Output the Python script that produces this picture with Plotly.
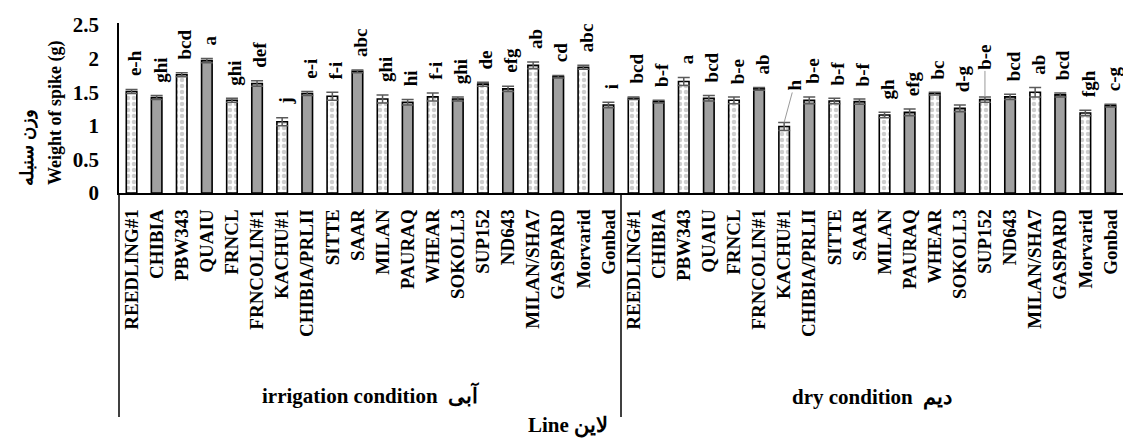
import plotly.graph_objects as go

lines = ["REEDLING#1", "CHIBIA", "PBW343", "QUAIU", "FRNCL", "FRNCOLIN#1", "KACHU#1",
         "CHIBIA/PRLII", "SITTE", "SAAR", "MILAN", "PAURAQ", "WHEAR", "SOKOLL3", "SUP152",
         "ND643", "MILAN/SHA7", "GASPARD", "Morvarid", "Gonbad"]

irr_mean = [1.51, 1.42, 1.76, 1.97, 1.38, 1.63, 1.06, 1.48, 1.44, 1.81,
            1.40, 1.35, 1.43, 1.40, 1.62, 1.55, 1.90, 1.73, 1.87, 1.31]
irr_se = [0.03, 0.03, 0.03, 0.03, 0.03, 0.04, 0.06, 0.03, 0.06, 0.02,
          0.06, 0.04, 0.06, 0.03, 0.03, 0.04, 0.05, 0.02, 0.03, 0.04]
irr_letters = ["e-h", "ghi", "bcd", "a", "ghi", "def", "j", "e-i", "f-i", "abc",
               "ghi", "hi", "f-i", "ghi", "de", "efg", "ab", "cd", "abc", "i"]

dry_mean = [1.41, 1.36, 1.66, 1.41, 1.38, 1.55, 0.99, 1.38, 1.37, 1.36,
            1.16, 1.20, 1.48, 1.26, 1.39, 1.43, 1.50, 1.46, 1.19, 1.30]
dry_se = [0.02, 0.02, 0.06, 0.04, 0.05, 0.02, 0.06, 0.05, 0.04, 0.04,
          0.04, 0.05, 0.02, 0.05, 0.04, 0.04, 0.07, 0.03, 0.04, 0.02]
dry_letters = ["bcd", "b-f", "a", "bcd", "b-e", "ab", "h", "b-e", "b-f", "b-f",
               "gh", "efg", "bc", "d-g", "b-e", "bcd", "ab", "bcd", "fgh", "c-g"]

y_ticks = [0, 0.5, 1, 1.5, 2, 2.5]
y_tick_text = ["0", "0.5", "1", "1.5", "2", "2.5"]

FONT = "Liberation Serif"

names = lines + lines
means = irr_mean + dry_mean
ses = irr_se + dry_se
letters = irr_letters + dry_letters
xs = list(range(len(names)))

dot_x = [x for x in xs if x % 2 == 0]
solid_x = [x for x in xs if x % 2 == 1]

fig = go.Figure()
err_style = dict(type="data", color="#5a5a5a", thickness=1.5, width=6, visible=True)

fig.add_trace(go.Bar(
    x=dot_x, y=[means[i] for i in dot_x],
    error_y=dict(array=[ses[i] for i in dot_x], **err_style),
    width=0.42,
    marker=dict(color="white", line=dict(color="black", width=1.6),
                pattern=dict(shape=".", fgcolor="#9c9c9c", bgcolor="white",
                             size=6, solidity=0.45)),
    showlegend=False,
))
fig.add_trace(go.Bar(
    x=solid_x, y=[means[i] for i in solid_x],
    error_y=dict(array=[ses[i] for i in solid_x], **err_style),
    width=0.42,
    marker=dict(color="#a0a0a0", line=dict(color="black", width=1.6)),
    showlegend=False,
))


def bfont(size):
    return dict(family=FONT, size=size, color="black", weight="bold")


annotations = []
special = {26: (10, -37), 34: (0, -40)}
for i in xs:
    top = means[i] + ses[i]
    if i in special:
        ax, ay = special[i]
        annotations.append(dict(
            x=i, y=top, xref="x", yref="y", text=letters[i], textangle=-90,
            showarrow=True, arrowhead=0, arrowwidth=1, arrowcolor="#9a9a9a",
            ax=ax, ay=ay, standoff=0, font=bfont(19)))
    else:
        annotations.append(dict(
            x=i, y=top, xref="x", yref="y", text=letters[i], textangle=-90,
            showarrow=False, yanchor="bottom", xanchor="center", yshift=11, xshift=3,
            font=bfont(19)))

annotations += [
    dict(x=0, y=0.47, xref="paper", yref="paper", xshift=-64, text="Weight of spike (g)",
         textangle=-90, showarrow=False, xanchor="center", yanchor="middle", font=bfont(18)),
    dict(x=0, y=0.265, xref="paper", yref="paper", xshift=-91, text="وزن سنبله",
         textangle=-90, showarrow=False, xanchor="center", yanchor="middle", font=bfont(18)),
    dict(x=9.5, y=0, xref="x", yref="paper", yshift=-202, text="irrigation condition  آبی",
         showarrow=False, xanchor="center", yanchor="middle", font=bfont(21)),
    dict(x=29.5, y=0, xref="x", yref="paper", yshift=-204, text="dry condition  دیم",
         showarrow=False, xanchor="center", yanchor="middle", font=bfont(21)),
    dict(x=17.4, y=0, xref="x", yref="paper", yshift=-232, text="Line لاین",
         showarrow=False, xanchor="center", yanchor="middle", font=bfont(21)),
]

plot_h = 170
shapes = [
    dict(type="line", xref="paper", yref="paper", x0=0, x1=0, y0=0, y1=-(417 - 193) / plot_h,
         line=dict(color="black", width=1.5)),
    dict(type="line", xref="x", yref="paper", x0=19.5, x1=19.5, y0=0, y1=-(417 - 193) / plot_h,
         line=dict(color="black", width=1.5)),
]

fig.update_layout(
    width=1123, height=438,
    margin=dict(l=119, r=0, t=23, b=245),
    paper_bgcolor="white", plot_bgcolor="white",
    barmode="overlay",
    font=dict(family=FONT, color="black"),
    annotations=annotations,
    shapes=shapes,
    xaxis=dict(range=[-0.5, 39.5], tickmode="array", tickvals=xs, ticktext=names,
               tickangle=-90, showline=True, linecolor="black", linewidth=1.5,
               showgrid=False, zeroline=False, ticks="", ticklabelstandoff=7,
               tickfont=bfont(19)),
    yaxis=dict(range=[0, 2.53], tickmode="array", tickvals=y_ticks, ticktext=y_tick_text,
               showline=True, linecolor="black", linewidth=1.5, showgrid=False,
               zeroline=False, ticks="", ticklabelstandoff=14,
               tickfont=bfont(21)),
)

fig.write_html("out.html")
